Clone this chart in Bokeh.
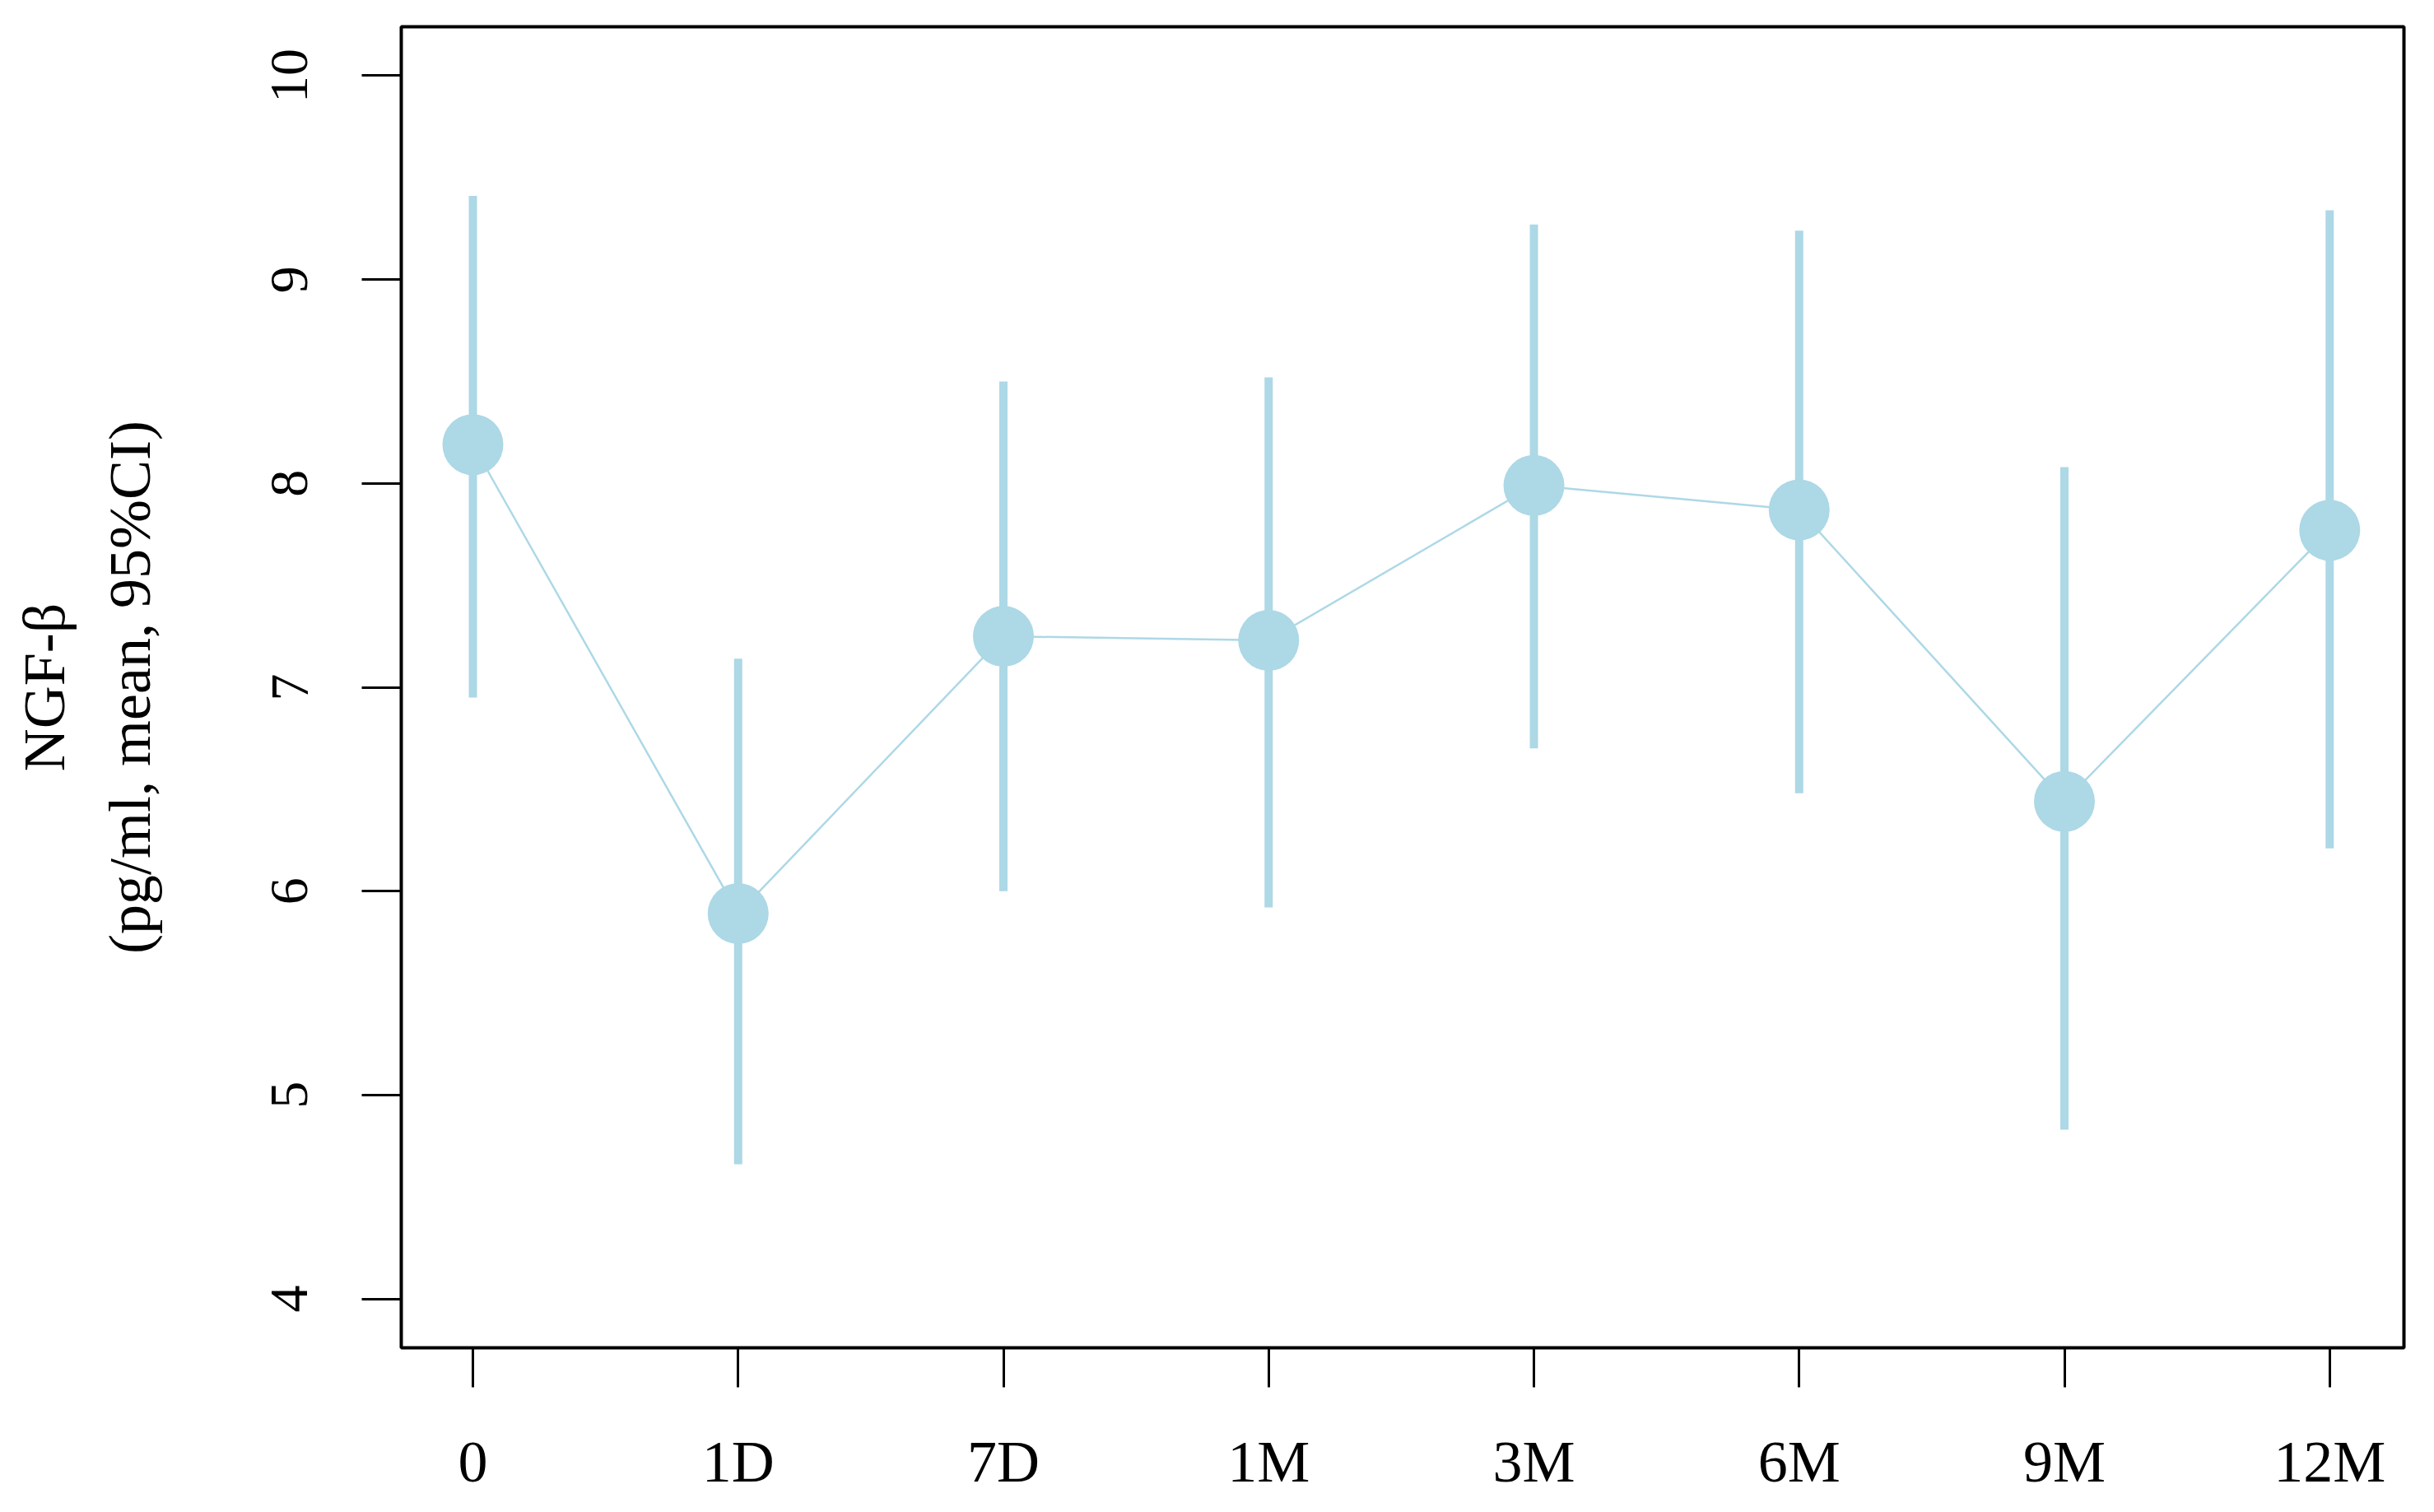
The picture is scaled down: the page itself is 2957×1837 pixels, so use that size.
from bokeh.plotting import figure
from bokeh.models import Range1d
from bokeh.embed import file_html
from bokeh.resources import INLINE

# ---- data ----
timepoints = ["0", "1D", "7D", "1M", "3M", "6M", "9M", "12M"]
mean_ngf = [8.19, 5.89, 7.25, 7.23, 7.99, 7.87, 6.44, 7.77]
ci_lower = [6.95, 4.66, 6.00, 5.92, 6.70, 6.48, 4.83, 6.21]
ci_upper = [9.41, 7.14, 8.50, 8.52, 9.27, 9.24, 8.08, 9.34]
y_ticks = [4, 5, 6, 7, 8, 9, 10]

x_pos = list(range(1, len(timepoints) + 1))
COL = "#ADD8E6"
FONT = "Liberation Serif"

p = figure(
    width=2940, height=1820,
    x_range=Range1d(0.73, 8.28), y_range=Range1d(3.76, 10.24),
    output_backend="svg", toolbar_location=None,
    min_border_left=487, min_border_right=20,
    min_border_top=32, min_border_bottom=183,
    background_fill_color="white", border_fill_color="white",
)
p.grid.visible = False
p.outline_line_color = "black"
p.outline_line_width = 4

# error bars
p.segment(x0=x_pos, y0=ci_lower, x1=x_pos, y1=ci_upper,
          line_color=COL, line_width=10, line_cap="butt")
# connecting line
p.line(x_pos, mean_ngf, line_color=COL, line_width=2.5)
# points
p.scatter(x_pos, mean_ngf, marker="circle", size=74,
          fill_color=COL, line_color=None)

for ax in (p.xaxis[0], p.yaxis[0]):
    ax.axis_line_color = None
    ax.major_tick_out = 48
    ax.major_tick_in = 0
    ax.major_tick_line_width = 3
    ax.major_tick_line_color = "black"
    ax.minor_tick_line_color = None
    ax.major_label_text_font = FONT
    ax.major_label_text_color = "black"

p.xaxis.ticker = x_pos
p.xaxis.major_label_overrides = {i: t for i, t in zip(x_pos, timepoints)}
p.xaxis.major_label_text_font_size = "72px"
p.xaxis.major_label_standoff = 50

p.yaxis.ticker = y_ticks
p.yaxis.major_label_orientation = "vertical"
p.yaxis.major_label_text_font_size = "66px"
p.yaxis.major_label_standoff = 66
p.yaxis.axis_label = "NGF-\u03b2\n(pg/ml, mean, 95%CI)"
p.yaxis.axis_label_text_font = FONT
p.yaxis.axis_label_text_font_style = "normal"
p.yaxis.axis_label_text_font_size = "72px"
p.yaxis.axis_label_text_line_height = 1.3
p.yaxis.axis_label_text_color = "black"
p.yaxis.axis_label_standoff = 130

open("out.html", "w").write(file_html(p, INLINE))
